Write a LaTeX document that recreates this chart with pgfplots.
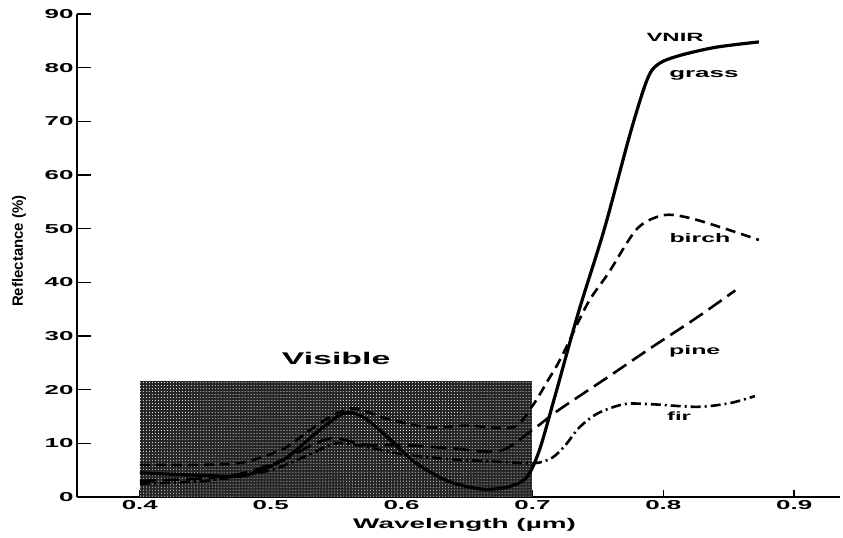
\documentclass[border=0pt]{standalone}
\usepackage{fontspec}
\setmainfont{Liberation Sans}[FakeStretch=2]
\newfontfamily\plainfont{Liberation Sans}
\usepackage{pgfplots}
\pgfplotsset{compat=1.18}
\usetikzlibrary{patterns}
\begin{document}
\begin{tikzpicture}
\path[use as bounding box] (-77bp,-41bp) rectangle (766bp,497bp);
\begin{axis}[
  scale only axis, width=763bp, height=483bp,
  xmin=0.352, xmax=0.935, ymin=0, ymax=90,
  axis x line=bottom, axis y line=left,
  x axis line style={-, line width=2bp},
  y axis line style={-, line width=2.6bp},
  tick align=inside,
  major tick length=14bp,
  ytick={0,10,20,30,40,50,60,70,80,90},
  tick style={line width=1.6bp, black},
  xtick=\empty,
  extra x ticks={0.4,0.5,0.6,0.7,0.8,0.9},
  extra x tick style={major tick length=7bp, tick style={line width=1.6bp, black}},
  /pgf/number format/assume math mode=true,
  ticklabel style={font=\bfseries\fontsize{13}{13}\selectfont},
  xlabel={Wavelength (µm)},
  xlabel style={at={(axis description cs:0.508,-0.058)}, anchor=center, font=\bfseries\fontsize{14}{14}\selectfont},
  ylabel={Reflectance (\%)},
  ylabel style={at={(axis description cs:-0.076,0.509)}, anchor=center, font=\plainfont\bfseries\fontsize{15}{15}\selectfont},
  clip=false,
]
% visible band
\addplot[draw=none, fill=black!85] coordinates {(0.4,0) (0.4,21.7) (0.7,21.7) (0.7,0)} -- cycle;
\addplot[draw=none, pattern=dots, pattern color=white] coordinates {(0.4,0) (0.4,21.7) (0.7,21.7) (0.7,0)} -- cycle;
% grass
\addplot[black, line width=3.2bp, smooth, tension=0.5] coordinates {
(0.40,4.5) (0.45,4.0) (0.48,4.0) (0.51,7.0) (0.535,12) (0.555,15.5) (0.57,15) (0.59,11) (0.61,6.5) (0.635,3) (0.66,1.5) (0.68,1.8) (0.695,3.5) (0.705,8.5) (0.717,18.6) (0.735,34.3) (0.755,50) (0.775,68) (0.788,78) (0.797,80.8) (0.813,82.3) (0.84,83.8) (0.873,84.8)};
% birch
\addplot[black, line width=2.6bp, dash pattern=on 10bp off 6bp, smooth, tension=0.5] coordinates {
(0.40,6) (0.45,6) (0.48,6.5) (0.51,9) (0.53,12.5) (0.55,15.5) (0.565,16.5) (0.59,14.5) (0.62,13) (0.65,13.3) (0.685,13) (0.70,17) (0.712,21.8) (0.722,26) (0.742,36) (0.758,41.7) (0.78,50) (0.80,52.5) (0.82,52) (0.851,49.7) (0.873,47.9)};
% pine
\addplot[black, line width=2.6bp, dash pattern=on 16bp off 7bp, smooth, tension=0.5] coordinates {
(0.40,3) (0.45,3.5) (0.48,4.5) (0.51,7) (0.53,9.5) (0.548,11) (0.573,9.7) (0.60,9.7) (0.637,9.1) (0.675,8.6) (0.70,12.5) (0.72,16.2) (0.758,22.4) (0.79,27.7) (0.826,33.5) (0.855,38.5)};
% fir
\addplot[black, line width=2.6bp, dash pattern=on 10bp off 4bp on 2bp off 4bp, smooth, tension=0.5] coordinates {
(0.40,2.5) (0.45,3) (0.50,5) (0.53,8) (0.55,10) (0.57,9.5) (0.60,8) (0.64,7) (0.68,6.5) (0.702,6.3) (0.715,7.3) (0.725,9.6) (0.736,13) (0.75,15.6) (0.77,17.3) (0.79,17.3) (0.826,16.8) (0.851,17.5) (0.87,18.8)};
% labels
\node[font=\bfseries\fontsize{12}{12}\selectfont] at (axis cs:0.809,85.7) {VNIR};
\node[font=\bfseries\fontsize{13}{13}\selectfont] at (axis cs:0.831,78.5) {grass};
\node[font=\bfseries\fontsize{12.5}{12.5}\selectfont] at (axis cs:0.828,48.2) {birch};
\node[font=\bfseries\fontsize{12.5}{12.5}\selectfont] at (axis cs:0.824,27.2) {pine};
\node[font=\bfseries\fontsize{12}{12}\selectfont] at (axis cs:0.812,15.0) {fir};
\node[font=\bfseries\fontsize{17}{17}\selectfont] at (axis cs:0.55,25.9) {Visible};
\end{axis}
\end{tikzpicture}
\end{document}
